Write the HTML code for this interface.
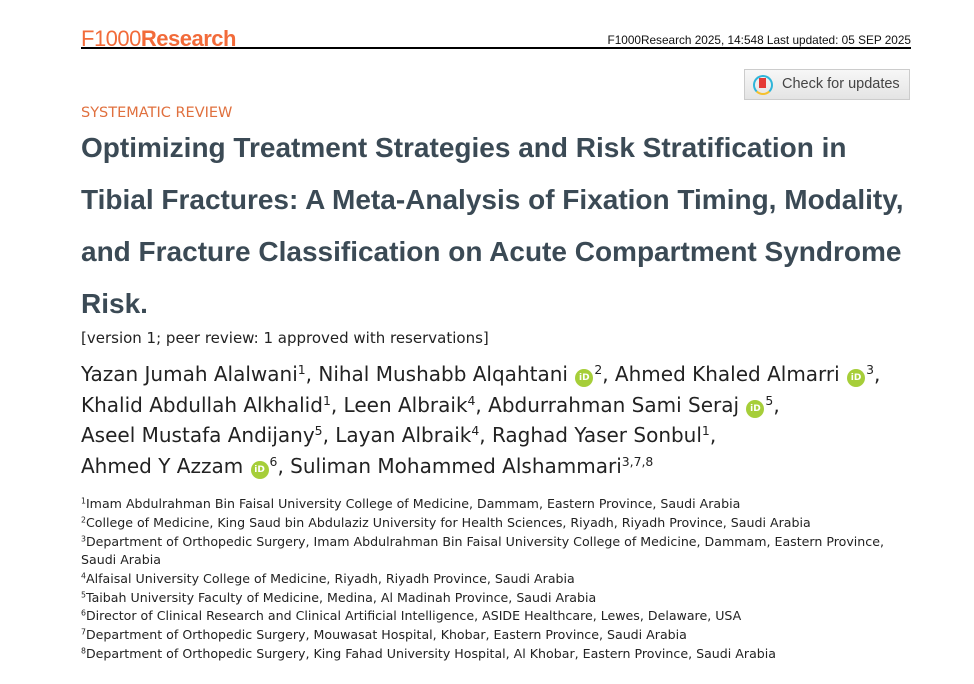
<!DOCTYPE html>
<html><head><meta charset="utf-8"><style>
body{margin:0;width:974px;height:684px;background:#fff;position:relative;overflow:hidden;font-family:"DejaVu Sans","Liberation Sans",sans-serif;}
.a{position:absolute;white-space:nowrap;}
.t{font-weight:bold;font-size:28px;color:#3b4a55;left:81px;font-family:"Liberation Sans",sans-serif;}
.au{font-size:20px;color:#222;left:81px;}
.af{font-size:12.6px;color:#222;left:81px;}
sup{font-size:0.62em;vertical-align:0.55em;}
.orc{display:inline-block;width:18px;height:18px;border-radius:50%;background:#a6ce39;color:#fff;font-size:9px;font-weight:bold;text-align:center;line-height:18px;vertical-align:1px;margin:0 1px;}
</style></head><body>
<div class="a" style="left:81px;top:26px;font-size:22px;color:#f26b3a;letter-spacing:-0.5px;font-family:'Liberation Sans',sans-serif;">F1000<b>Research</b></div>
<div class="a" style="right:63px;top:33px;font-size:11.8px;color:#111;font-family:'Liberation Sans',sans-serif;">F1000Research 2025, 14:548 Last updated: 05 SEP 2025</div>
<div class="a" style="left:81px;top:47px;width:830px;height:2px;background:#000;"></div>
<div class="a" style="left:744px;top:69px;width:166px;height:31px;border:1px solid #ccc;background:linear-gradient(#f7f7f7,#e4e4e4);box-sizing:border-box;font-size:14.5px;color:#444;font-family:'Liberation Sans',sans-serif;">
<span style="position:absolute;left:8px;top:5px;width:16px;height:16px;border-radius:50%;border:2px solid #2fb5d9;border-bottom-color:#f5c12e;"></span>
<span style="position:absolute;left:14px;top:8px;width:7px;height:10px;background:#e53935;"></span>
<span style="position:absolute;left:37px;top:6px;">Check for updates</span></div>
<div class="a" style="left:81px;top:105px;font-size:14.5px;color:#e0703e;">SYSTEMATIC REVIEW</div>
<div class="a t" style="top:132px;">Optimizing Treatment Strategies and Risk Stratification in</div>
<div class="a t" style="top:184px;">Tibial Fractures: A Meta-Analysis of Fixation Timing, Modality,</div>
<div class="a t" style="top:236px;">and Fracture Classification on Acute Compartment Syndrome</div>
<div class="a t" style="top:288px;">Risk.</div>
<div class="a" style="left:81px;top:329px;font-size:15px;color:#222;">[version 1; peer review: 1 approved with reservations]</div>
<div class="a au" style="top:362px;">Yazan Jumah Alalwani<sup>1</sup>, Nihal Mushabb Alqahtani <span class="orc">iD</span><sup>2</sup>, Ahmed Khaled Almarri <span class="orc">iD</span><sup>3</sup>,</div>
<div class="a au" style="top:393px;">Khalid Abdullah Alkhalid<sup>1</sup>, Leen Albraik<sup>4</sup>, Abdurrahman Sami Seraj <span class="orc">iD</span><sup>5</sup>,</div>
<div class="a au" style="top:423px;">Aseel Mustafa Andijany<sup>5</sup>, Layan Albraik<sup>4</sup>, Raghad Yaser Sonbul<sup>1</sup>,</div>
<div class="a au" style="top:454px;">Ahmed Y Azzam <span class="orc">iD</span><sup>6</sup>, Suliman Mohammed Alshammari<sup>3,7,8</sup></div>
<div class="a af" style="top:496px;"><sup>1</sup>Imam Abdulrahman Bin Faisal University College of Medicine, Dammam, Eastern Province, Saudi Arabia</div>
<div class="a af" style="top:515px;"><sup>2</sup>College of Medicine, King Saud bin Abdulaziz University for Health Sciences, Riyadh, Riyadh Province, Saudi Arabia</div>
<div class="a af" style="top:534px;"><sup>3</sup>Department of Orthopedic Surgery, Imam Abdulrahman Bin Faisal University College of Medicine, Dammam, Eastern Province,</div>
<div class="a af" style="top:552px;">Saudi Arabia</div>
<div class="a af" style="top:571px;"><sup>4</sup>Alfaisal University College of Medicine, Riyadh, Riyadh Province, Saudi Arabia</div>
<div class="a af" style="top:590px;"><sup>5</sup>Taibah University Faculty of Medicine, Medina, Al Madinah Province, Saudi Arabia</div>
<div class="a af" style="top:608px;"><sup>6</sup>Director of Clinical Research and Clinical Artificial Intelligence, ASIDE Healthcare, Lewes, Delaware, USA</div>
<div class="a af" style="top:627px;"><sup>7</sup>Department of Orthopedic Surgery, Mouwasat Hospital, Khobar, Eastern Province, Saudi Arabia</div>
<div class="a af" style="top:646px;"><sup>8</sup>Department of Orthopedic Surgery, King Fahad University Hospital, Al Khobar, Eastern Province, Saudi Arabia</div>
</body></html>
